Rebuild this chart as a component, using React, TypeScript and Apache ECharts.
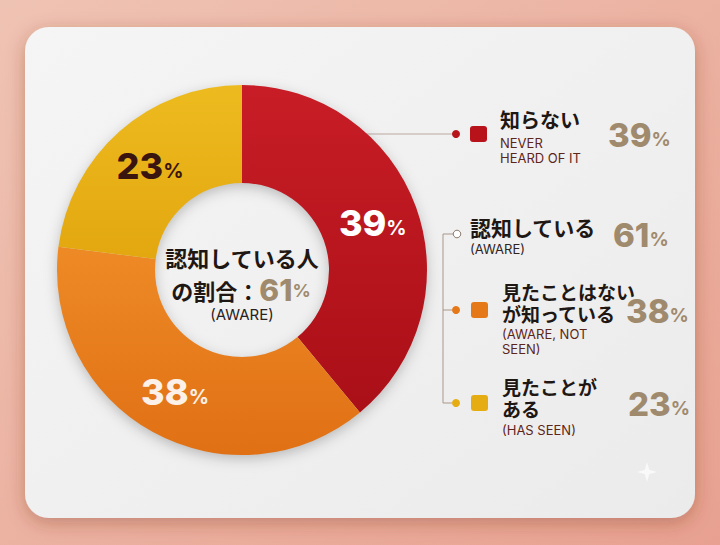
import React, { useEffect, useRef } from "react";
import * as echarts from "echarts";

// ---- data ----
const sliceNames = ["知らない", "見たことはないが知っている", "見たことがある"];
const sliceValues = [39, 38, 23];
const sliceColors = [
  ["#c81d26", "#aa0f17"],
  ["#ee8a26", "#e07014"],
  ["#edbb1f", "#e3a70f"],
];
const sliceLabelColors = ["#ffffff", "#fbf1e8", "#3a140e"];

const centerTitle = "認知している人";
const centerLead = "の割合：";
const centerValue = 61;
const centerSub = "(AWARE)";

const legendTitles = ["知らない", "認知している", "見たことはない\nが知っている", "見たことが\nある"];
const legendSubs = ["NEVER\nHEARD OF IT", "(AWARE)", "(AWARE, NOT\nSEEN)", "(HAS SEEN)"];
const legendValues = [39, 61, 38, 23];
const legendSwatch = ["#b8121b", "", "#e57819", "#e6ad12"];

const JP = '"Noto Sans CJK JP", "Noto Sans", sans-serif';
const NUM = 'Inter, "Noto Sans", sans-serif';
const TAN = "#a08a6d";
const DARK = "#1e1714";
const SUBC = "#5e2519";

export default function App() {
  const ref = useRef<HTMLDivElement>(null);
  useEffect(() => {
    if (!ref.current) return;
    const chart = echarts.init(ref.current, null, { renderer: "svg" });
    const cx = 242;
    const cy = 270;

    // legend rows layout (positions)
    const rowY = [134, 234, 310, 403];
    const titleTop = [108, 216, 280, 375];
    const subTop = [135, 241, 326, 422];
    const valX = [608, 613, 626, 628];
    const titleX = [500, 470, 502, 502];
    const titleSize = [20, 21, 19, 19];

    const graphics: any[] = [];
    // background
    graphics.push({
      type: "rect",
      z: -10,
      shape: { x: 0, y: 0, width: 720, height: 545 },
      style: {
        fill: {
          type: "linear", x: 0, y: 0, x2: 1, y2: 1,
          colorStops: [
            { offset: 0, color: "#efc3b3" },
            { offset: 1, color: "#e8a190" },
          ],
        },
      },
    });
    // card
    graphics.push({
      type: "rect",
      z: -9,
      shape: { x: 25, y: 27, width: 670, height: 491, r: 24 },
      style: {
        fill: {
          type: "linear", x: 0, y: 0, x2: 1, y2: 1,
          colorStops: [
            { offset: 0, color: "#f5f5f5" },
            { offset: 1, color: "#ebebeb" },
          ],
        },
        shadowBlur: 18,
        shadowOffsetY: 5,
        shadowColor: "rgba(120,50,35,0.35)",
      },
    });
    // donut shadow ring
    graphics.push({
      type: "ring",
      z: -5,
      shape: { cx, cy, r: 184, r0: 88 },
      style: { fill: "#d9d9d9", shadowBlur: 14, shadowOffsetY: 4, shadowColor: "rgba(0,0,0,0.25)" },
    });
    // sparkle
    const sx = 647, sy = 472, s = 10, w = 2.2;
    graphics.push({
      type: "polygon",
      z: -8,
      shape: {
        points: [
          [sx, sy - s], [sx + w, sy - w], [sx + s, sy], [sx + w, sy + w],
          [sx, sy + s], [sx - w, sy + w], [sx - s, sy], [sx - w, sy - w],
        ],
      },
      style: { fill: "#f9f9f9" },
    });

    // center text
    graphics.push({
      type: "text",
      style: {
        x: cx, y: 246, text: centerTitle, align: "center", verticalAlign: "top",
        font: `bold 22px ${JP}`, fill: DARK,
      },
    });
    graphics.push({
      type: "text",
      style: {
        x: cx - 1, y: 290, align: "center", verticalAlign: "middle",
        text: `{a|${centerLead}}{b|${centerValue}}{c|%}`,
        rich: {
          a: { fontFamily: JP, fontWeight: "bold", fontSize: 22, fill: DARK, color: DARK },
          b: { fontFamily: NUM, fontWeight: 800, fontSize: 30, lineHeight: 28, fill: TAN, color: TAN },
          c: { fontFamily: NUM, fontWeight: 700, fontSize: 18, fill: TAN, color: TAN },
        },
      },
    });
    graphics.push({
      type: "text",
      style: {
        x: cx, y: 307, text: centerSub, align: "center", verticalAlign: "top",
        font: `15px ${NUM}`, fill: "#2a2220",
      },
    });

    // connector from donut to first row
    graphics.push({
      type: "line",
      z: -6,
      shape: { x1: 355, y1: rowY[0], x2: 452, y2: rowY[0] },
      style: { stroke: "#bcaaa2", lineWidth: 1.2 },
    });
    // tree lines
    graphics.push({
      type: "polyline",
      shape: { points: [[453, rowY[1]], [443, rowY[1]], [443, rowY[3]], [452, rowY[3]]] },
      style: { stroke: "#a8978a", lineWidth: 1, fill: "none" },
    });
    graphics.push({
      type: "line",
      shape: { x1: 443, y1: rowY[2], x2: 452, y2: rowY[2] },
      style: { stroke: "#a8978a", lineWidth: 1 },
    });

    legendTitles.forEach((t, i) => {
      const y = rowY[i];
      const sw = legendSwatch[i];
      if (sw) {
        graphics.push({ type: "circle", shape: { cx: 456, cy: y, r: 4 }, style: { fill: sw } });
        graphics.push({
          type: "rect",
          shape: { x: i === 0 ? 470 : 471, y: y - 8, width: 17, height: 16, r: 3 },
          style: { fill: sw },
        });
      } else {
        graphics.push({
          type: "circle",
          shape: { cx: 457, cy: y, r: 3.8 },
          style: { fill: "#ffffff", stroke: "#8a7a6e", lineWidth: 1 },
        });
      }
      graphics.push({
        type: "text",
        style: {
          x: titleX[i], y: titleTop[i], text: t, verticalAlign: "top",
          font: `bold ${titleSize[i]}px ${JP}`, lineHeight: 22, fill: DARK,
        },
      });
      graphics.push({
        type: "text",
        style: {
          x: titleX[i], y: subTop[i], text: legendSubs[i], verticalAlign: "top",
          font: `13px ${NUM}`, lineHeight: 15, fill: i === 1 ? "#2e2420" : SUBC,
        },
      });
      graphics.push({
        type: "text",
        style: {
          x: valX[i], y: i === 0 ? 135 : y + 1, verticalAlign: "middle",
          text: `{n|${legendValues[i]}}{p|%}`,
          rich: {
            n: { fontFamily: NUM, fontWeight: 800, fontSize: 33, fill: TAN, color: TAN },
            p: { fontFamily: NUM, fontWeight: 700, fontSize: 19, fill: TAN, color: TAN, padding: [9, 0, 0, 0] },
          },
        },
      });
    });

    const option: any = {
      animation: false,
      graphic: { elements: graphics },
      series: [
        {
          type: "pie",
          center: [cx, cy],
          radius: [87, 185],
          startAngle: 90,
          clockwise: true,
          silent: true,
          label: {
            show: true,
            position: "inside",
            formatter: (p: any) => `{n|${p.value}}{p|%}`,
          },
          labelLine: { show: false },
          data: sliceValues.map((v, i) => ({
            name: sliceNames[i],
            value: v,
            itemStyle: {
              color: {
                type: "linear", x: 0, y: 0, x2: 0, y2: 1,
                colorStops: [
                  { offset: 0, color: sliceColors[i][0] },
                  { offset: 1, color: sliceColors[i][1] },
                ],
              },
            },
            label: {
              rich: {
                n: { fontFamily: NUM, fontWeight: 800, fontSize: 36, color: sliceLabelColors[i] },
                p: { fontFamily: NUM, fontWeight: 700, fontSize: 20, color: sliceLabelColors[i], padding: [10, 0, 0, 0] },
              },
            },
          })),
        },
      ],
    };
    chart.setOption(option);
    return () => chart.dispose();
  }, []);
  return (
    <div
      ref={ref}
      style={{ position: "absolute", left: 0, top: 0, width: 720, height: 545 }}
    />
  );
}
